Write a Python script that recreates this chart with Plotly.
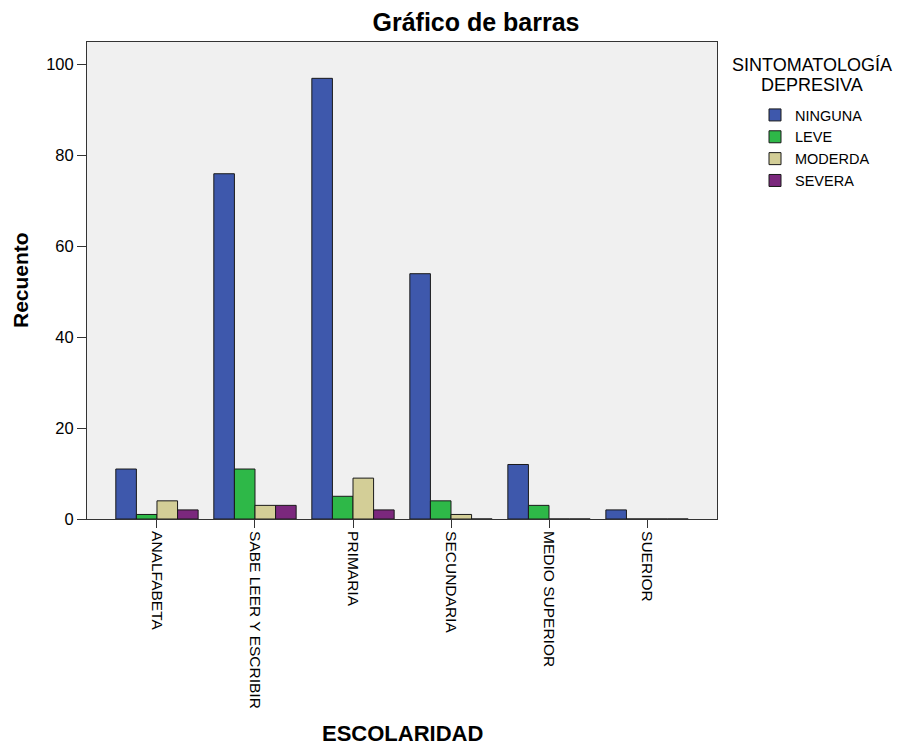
import plotly.graph_objects as go

categories = ["ANALFABETA", "SABE LEER Y ESCRIBIR", "PRIMARIA", "SECUNDARIA", "MEDIO SUPERIOR", "SUERIOR"]
ninguna = [11, 76, 97, 54, 12, 2]
leve = [1, 11, 5, 4, 3, 0]
moderda = [4, 3, 9, 1, 0, 0]
severa = [2, 3, 2, 0, 0, 0]
series_names = ["NINGUNA", "LEVE", "MODERDA", "SEVERA"]
colors = ["#3e58ac", "#2eb848", "#d3ce97", "#7b287d"]
y_ticks = [0, 20, 40, 60, 80, 100]

FONT = "Liberation Sans, Arial, sans-serif"

# page body adds 8px offset; plot area on screen: x 87..717, y 42..519
OFF = 8
L, R, T, B = 87 - OFF, 911 - 717 + OFF, 42 - OFF, 745 - 519 + OFF
PW, PH = 630, 477

def px_x(sx):
    return (sx - 87) / PW

def px_y(sy):
    return (519 - sy) / PH

fig = go.Figure()
for name, vals, col in zip(series_names, [ninguna, leve, moderda, severa], colors):
    fig.add_trace(go.Bar(
        x=categories, y=vals, name=name,
        marker=dict(color=col, line=dict(color="#1a1a1a", width=1)),
    ))

fig.update_layout(
    width=911, height=745,
    margin=dict(l=L, r=R, t=T, b=B),
    paper_bgcolor="white", plot_bgcolor="#f0f0f0",
    barmode="group", bargap=0.16, bargroupgap=0,
    font=dict(family=FONT, color="#000000", size=12),
    title=dict(text="<b>Gráfico de barras</b>", x=px_x(476), xref="paper", xanchor="center",
               y=1 - (22 - OFF) / 745, yref="container", yanchor="middle",
               font=dict(size=25, family=FONT)),
    showlegend=True,
    legend=dict(x=px_x(755), xanchor="left", y=px_y(99), yanchor="top",
                bgcolor="rgba(0,0,0,0)", font=dict(size=14.5, family=FONT),
                itemwidth=30, tracegroupgap=0),
    annotations=[
        dict(text="SINTOMATOLOGÍA", x=px_x(812), y=px_y(65), xref="paper", yref="paper",
             xanchor="center", yanchor="middle", showarrow=False, font=dict(size=18, family=FONT)),
        dict(text="DEPRESIVA", x=px_x(812), y=px_y(85), xref="paper", yref="paper",
             xanchor="center", yanchor="middle", showarrow=False, font=dict(size=18, family=FONT)),
        dict(text="<b>ESCOLARIDAD</b>", x=px_x(402), y=px_y(733), xref="paper", yref="paper",
             xanchor="center", yanchor="middle", showarrow=False, font=dict(size=22, family=FONT)),
        dict(text="<b>Recuento</b>", x=px_x(20), y=px_y(280), xref="paper", yref="paper",
             xanchor="center", yanchor="middle", showarrow=False, textangle=-90,
             font=dict(size=21, family=FONT)),
    ],
)

fig.update_xaxes(
    range=[-0.714, 5.714], showline=True, linecolor="#333333", linewidth=1, mirror=True,
    ticks="outside", ticklen=8, tickcolor="#333333", tickangle=90,
    tickfont=dict(size=15.5, family=FONT), showgrid=False,
)
fig.update_yaxes(
    range=[0, 105], tickvals=y_ticks, showline=True, linecolor="#333333", linewidth=1, mirror=True,
    ticks="outside", ticklen=9, tickcolor="#333333", showgrid=False, zeroline=False,
    tickfont=dict(size=16.5, family=FONT),
)

fig.write_html("out.html")
